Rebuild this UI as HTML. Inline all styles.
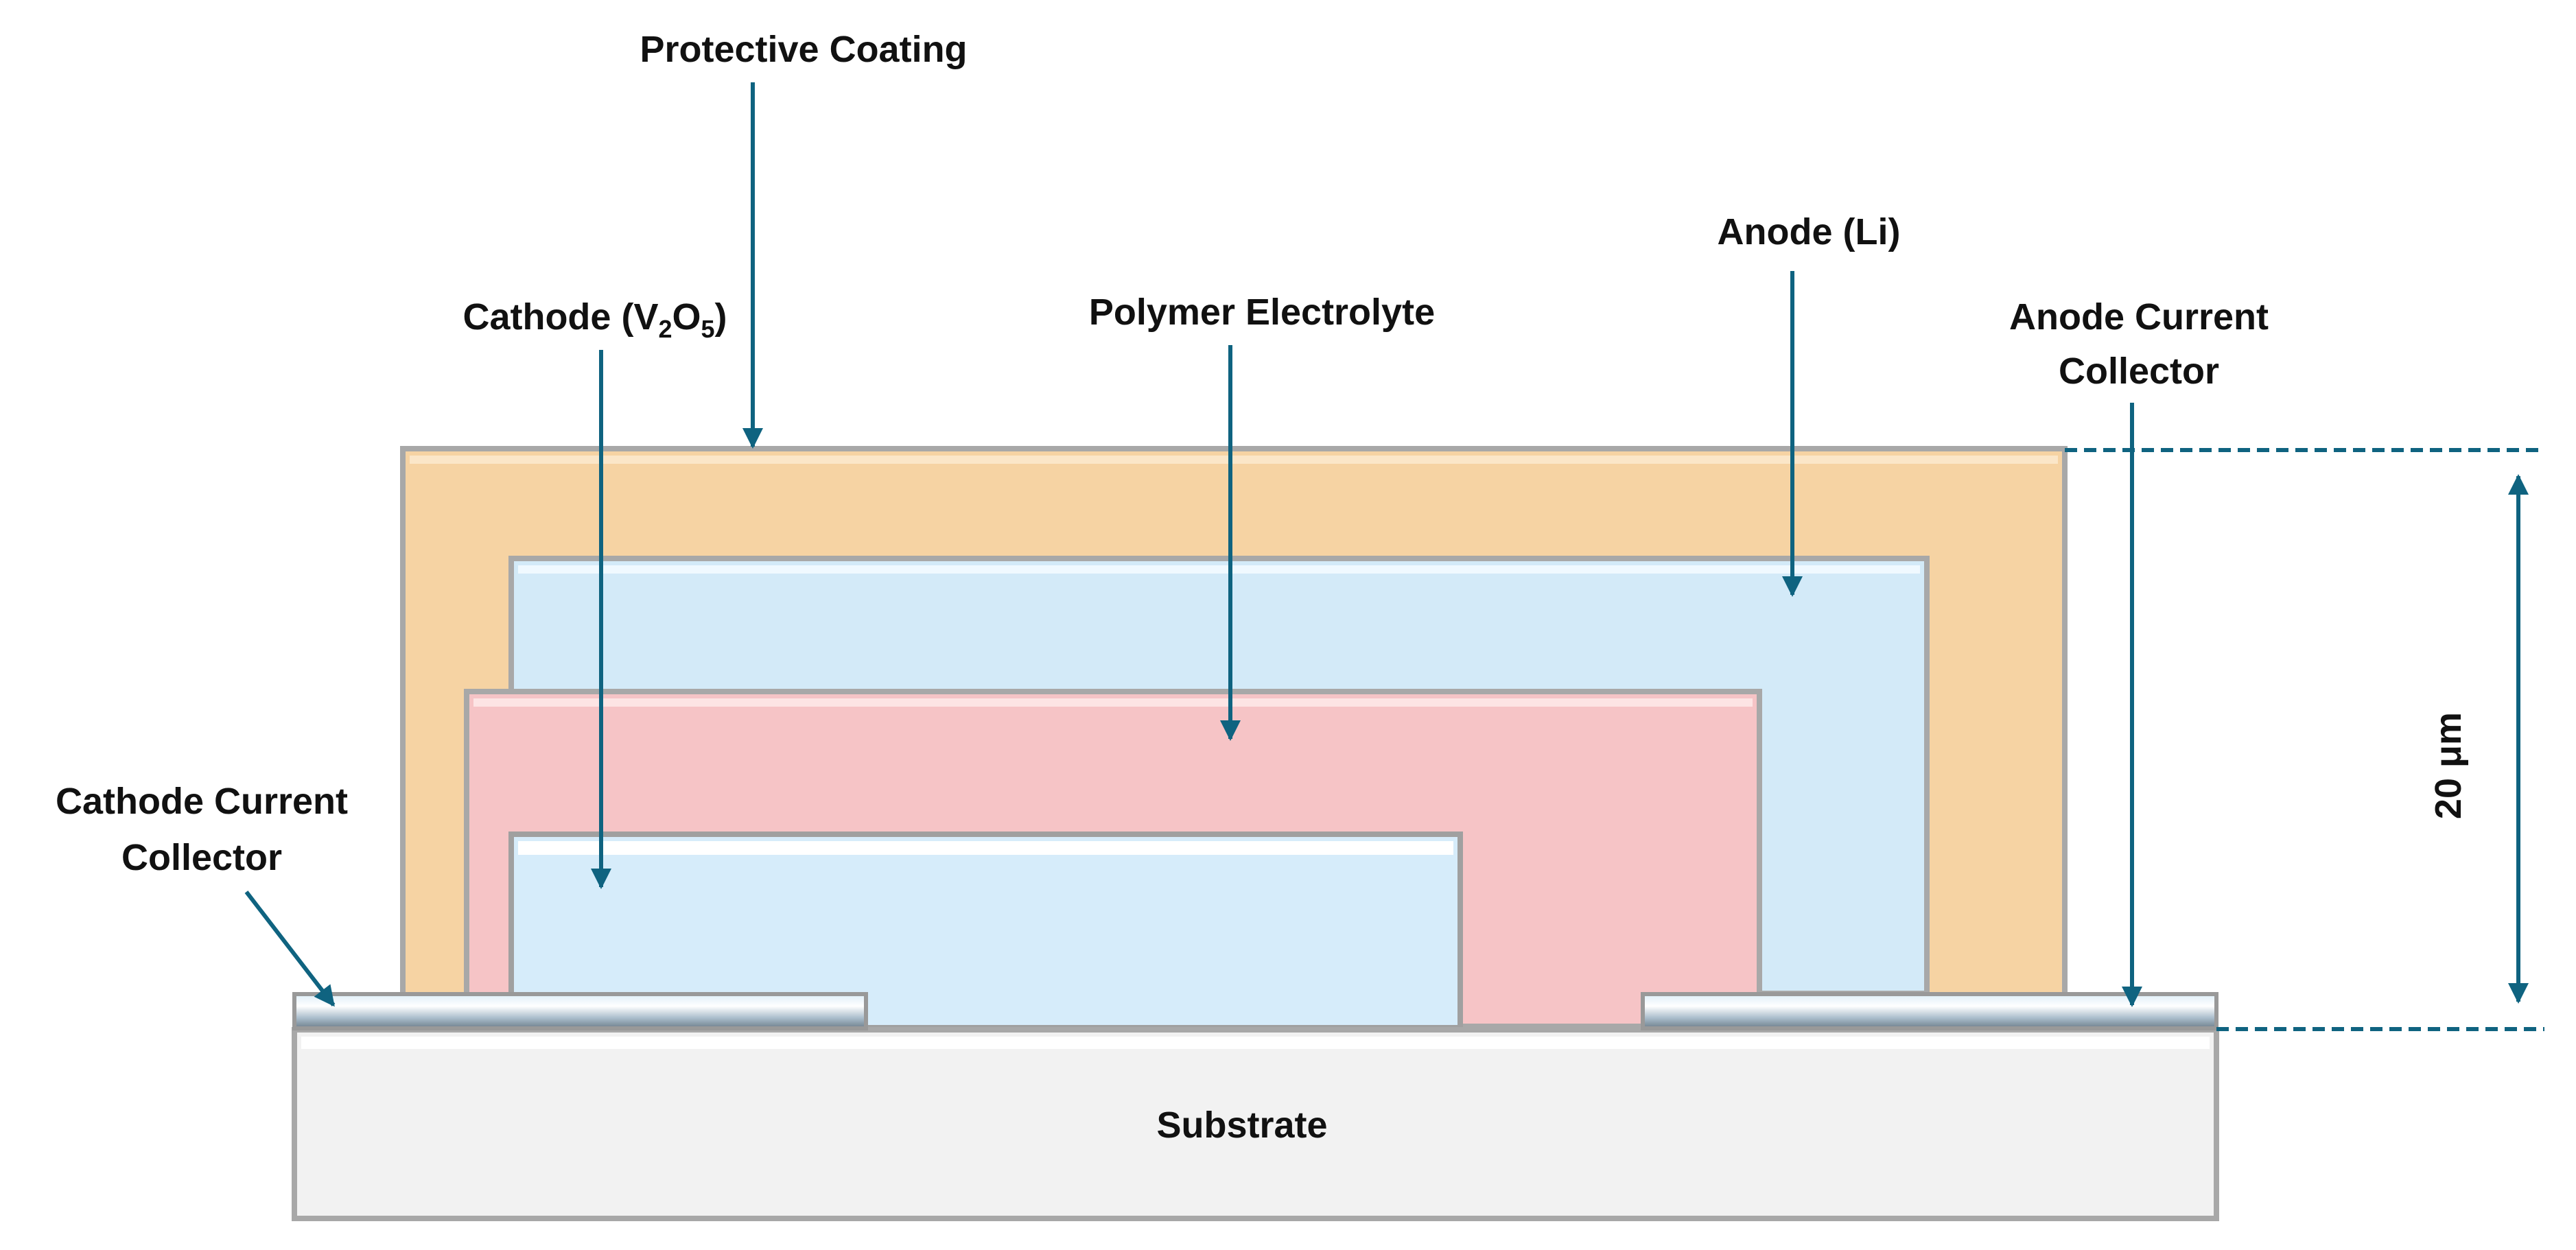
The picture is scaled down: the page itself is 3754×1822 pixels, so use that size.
<!DOCTYPE html>
<html><head><meta charset="utf-8"><style>
html,body{margin:0;padding:0;background:#fff}
svg{display:block}
text{font-family:"Liberation Sans",sans-serif;font-weight:bold;fill:#111}
</style></head><body>
<svg width="3754" height="1822" viewBox="0 0 3754 1822" xmlns="http://www.w3.org/2000/svg">
<defs>
<marker id="ah" viewBox="0 0 10 10" refX="9" refY="5" markerWidth="5.5" markerHeight="5" orient="auto-start-reverse" markerUnits="strokeWidth"><path d="M0,0L10,5L0,10z" fill="#0f6380"/></marker>
<linearGradient id="cc" x1="0" y1="0" x2="0" y2="1"><stop offset="0" stop-color="#ddeef8"/><stop offset="0.35" stop-color="#ffffff"/><stop offset="0.7" stop-color="#a9bccb"/><stop offset="1" stop-color="#6d7e8a"/></linearGradient>
</defs>
<rect x="587" y="654" width="2422" height="806" fill="#f6d3a3" stroke="#a8a8a8" stroke-width="8"/>
<rect x="597" y="664" width="2402" height="12" fill="#fbe6c8"/>
<rect x="745" y="814" width="2063" height="634" fill="#d3eaf8" stroke="#a8a8a8" stroke-width="8"/>
<rect x="755" y="824" width="2043" height="12" fill="#f0f9ff"/>
<rect x="680" y="1008" width="1884" height="488" fill="#f6c4c6" stroke="#a8a8a8" stroke-width="8"/>
<rect x="690" y="1018" width="1864" height="12" fill="#fde4e4"/>
<rect x="745" y="1216" width="1383" height="282" fill="#d6ecfa" stroke="#a0a0a0" stroke-width="8"/>
<rect x="755" y="1226" width="1363" height="20" fill="#ffffff"/>
<rect x="429" y="1501" width="2801" height="275" fill="#f2f2f2" stroke="#a8a8a8" stroke-width="8"/>
<rect x="439" y="1511" width="2781" height="18" fill="#ffffff"/>
<rect x="429" y="1449" width="833" height="50" fill="url(#cc)" stroke="#999" stroke-width="6"/>
<rect x="2394" y="1449" width="836" height="50" fill="url(#cc)" stroke="#999" stroke-width="6"/>
<g stroke="#0f6380" stroke-width="6" fill="none">
<line x1="1097" y1="120" x2="1097" y2="651" marker-end="url(#ah)"/>
<line x1="876" y1="510" x2="876" y2="1293" marker-end="url(#ah)"/>
<line x1="1793" y1="503" x2="1793" y2="1077" marker-end="url(#ah)"/>
<line x1="2612" y1="395" x2="2612" y2="867" marker-end="url(#ah)"/>
<line x1="3107" y1="587" x2="3107" y2="1465" marker-end="url(#ah)"/>
<line x1="359" y1="1300" x2="486" y2="1465" marker-end="url(#ah)"/>
<line x1="3670" y1="694" x2="3670" y2="1460" marker-start="url(#ah)" marker-end="url(#ah)"/>
<line x1="3009" y1="656" x2="3708" y2="656" stroke-dasharray="18,10"/>
<line x1="3230" y1="1500" x2="3708" y2="1500" stroke-dasharray="18,10"/>
</g>
<g font-size="54" text-anchor="middle">
<text x="1171" y="90">Protective Coating</text>
<text x="2636" y="356">Anode (Li)</text>
<text x="867" y="480">Cathode (V<tspan font-size="36" dy="12">2</tspan><tspan dy="-12">O</tspan><tspan font-size="36" dy="12">5</tspan><tspan dy="-12">)</tspan></text>
<text x="1839" y="473">Polymer Electrolyte</text>
<text x="3117" y="480">Anode Current</text>
<text x="3117" y="559">Collector</text>
<text x="294" y="1186">Cathode Current</text>
<text x="294" y="1268">Collector</text>
<text x="1810" y="1658">Substrate</text>
<text x="0" y="0" transform="translate(3586,1116) rotate(-90)">20 μm</text>
</g>
</svg>
</body></html>
